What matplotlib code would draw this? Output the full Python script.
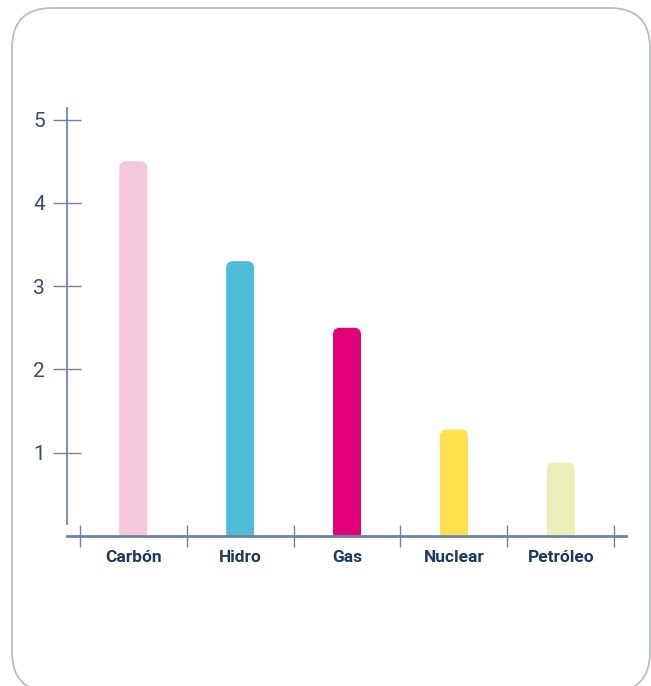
import matplotlib.pyplot as plt
from matplotlib.patches import FancyBboxPatch

categories = ['Carbón', 'Hidro', 'Gas', 'Nuclear', 'Petróleo']
values = [4.5, 3.3, 2.5, 1.28, 0.88]
colors = ['#F5C8DC', '#4DBDD5', '#E2007A', '#FFE150', '#EBEFB8']
yticks = [1, 2, 3, 4, 5]

axis_color = '#7083A3'
label_color = '#1C3A60'

fig = plt.figure(figsize=(6.51, 6.86), dpi=100)

# background frame in pixel coords
bg = fig.add_axes([0, 0, 1, 1])
bg.set_xlim(0, 651)
bg.set_ylim(686, 0)
bg.axis('off')
bg.add_patch(FancyBboxPatch((12, 8), 638, 684, boxstyle='round,pad=0,rounding_size=40',
                            fc='white', ec='#B9BDC2', lw=1.3))

ax = fig.add_axes([0.1029, 0.2187, 0.8587, 0.6239])
ax.patch.set_alpha(0)
ax.set_xlim(-0.12, 5.11)
ax.set_ylim(0, 5.14)

x = [i + 0.5 for i in range(len(categories))]
bars = ax.bar(x, values, width=0.262, color=colors)

# swap the plain bars for ones with rounded tops
aspect = 106.8 / 83.3
for b in bars:
    r = FancyBboxPatch((b.get_x(), -0.3), b.get_width(), b.get_height() + 0.3,
                       boxstyle='round,pad=0,rounding_size=0.065',
                       mutation_aspect=aspect, fc=b.get_facecolor(), ec='none')
    b.set_visible(False)
    ax.add_patch(r)

for s in ['top', 'right']:
    ax.spines[s].set_visible(False)
ax.spines['left'].set_color(axis_color)
ax.spines['left'].set_linewidth(1.3)
ax.spines['left'].set_bounds(0.14, 5.14)
ax.spines['bottom'].set_color(axis_color)
ax.spines['bottom'].set_linewidth(2)

ax.set_yticks(yticks)
ax.set_yticklabels([str(v) for v in yticks], fontsize=15, color='#34506F',
                   family='Roboto')
ax.tick_params(axis='y', direction='inout', length=20, width=1, color=axis_color, pad=6)

ax.set_xticks(range(len(categories) + 1))
ax.set_xticklabels([])
ax.tick_params(axis='x', direction='inout', length=16, width=1, color=axis_color)
for xi, c in zip(x, categories):
    ax.text(xi, -0.17, c, ha='center', va='top', fontsize=12.5, fontweight='bold',
            color=label_color, family='Roboto')

plt.savefig('out.png', dpi=100)
